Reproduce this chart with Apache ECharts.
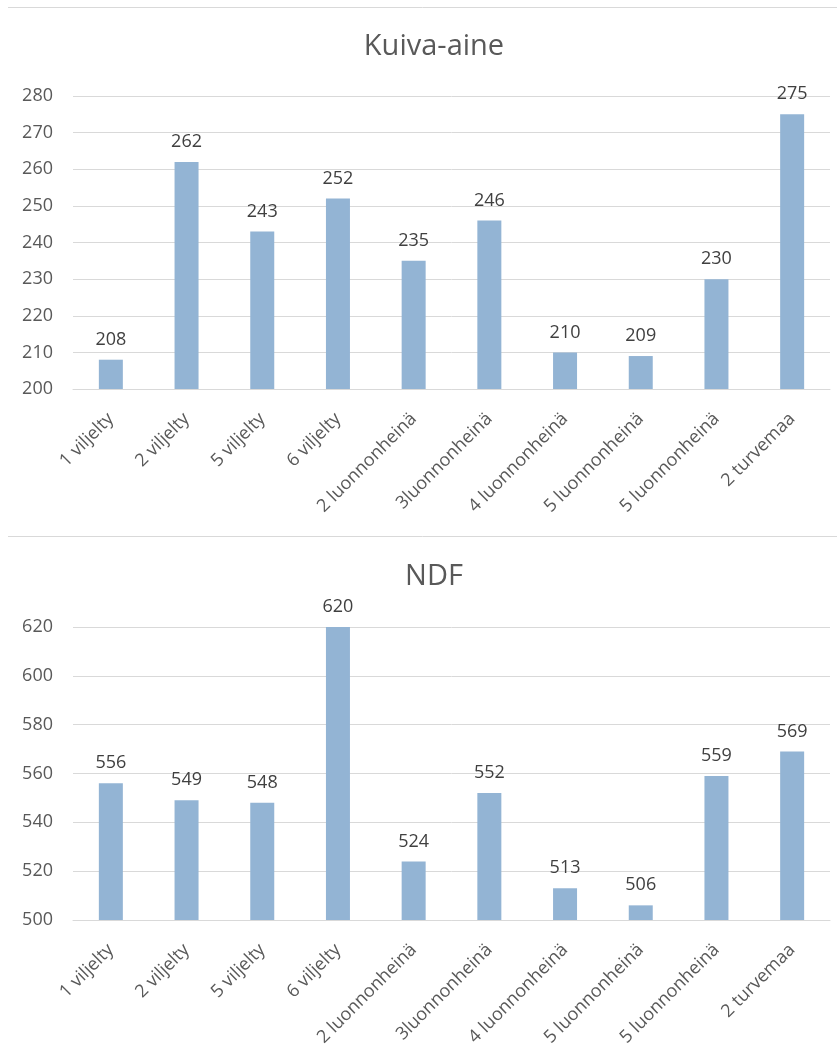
<!DOCTYPE html>
<html>
<head>
<meta charset="utf-8">
<script src="https://cdn.jsdelivr.net/npm/echarts@6/dist/echarts.min.js"></script>
<style>
  html, body { margin: 0; padding: 0; background: #fff; }
  #chart { width: 837px; height: 1051px; }
</style>
</head>
<body>
<div id="chart"></div>
<script>
// Sample categories (shared by both charts)
const categories = [
  '1 viljelty', '2 viljelty', '5 viljelty', '6 viljelty', '2 luonnonheinä',
  '3luonnonheinä', '4 luonnonheinä', '5 luonnonheinä', '5 luonnonheinä', '2 turvemaa'
];
// Dry matter values
const kuivaAine = [208, 262, 243, 252, 235, 246, 210, 209, 230, 275];
// NDF values
const ndf = [556, 549, 548, 620, 524, 552, 513, 506, 559, 569];

const titles = ['Kuiva-aine', 'NDF'];
const yRanges = [
  { min: 200, max: 280, interval: 10 },
  { min: 500, max: 620, interval: 20 }
];

const grey = '#595959';
const lineGrey = '#d9d9d9';
const barColor = '#93b4d4';
const font = '"Open Sans", "Liberation Sans", sans-serif';

const chart = echarts.init(document.getElementById('chart'), null, { renderer: 'canvas' });

const grids = [
  { left: 73, right: 7, top: 96, height: 293 },
  { left: 73, right: 7, top: 627, height: 293 }
];

function xAxis(i) {
  return {
    type: 'category', gridIndex: i, data: categories,
    axisLine: { lineStyle: { color: lineGrey, width: 1 } },
    axisTick: { show: false },
    axisLabel: { rotate: 45, color: grey, fontSize: 18, fontFamily: font, margin: 27, interval: 0 }
  };
}
function yAxis(i) {
  return {
    type: 'value', gridIndex: i,
    min: yRanges[i].min, max: yRanges[i].max, interval: yRanges[i].interval,
    axisLine: { show: false }, axisTick: { show: false },
    axisLabel: { color: grey, fontSize: 18, fontFamily: font, margin: 20 },
    splitLine: { lineStyle: { color: lineGrey, width: 1 } }
  };
}
function series(i, data) {
  return {
    type: 'bar', xAxisIndex: i, yAxisIndex: i, data: data,
    barWidth: 24,
    itemStyle: { color: barColor },
    label: { show: true, position: 'top', distance: 11, color: '#404040', fontSize: 18, fontFamily: font },
    silent: true
  };
}

function title(text, top) {
  return {
    text: text, left: 429, top: top, textAlign: 'center',
    textStyle: { color: grey, fontSize: 29, fontWeight: 'normal', fontFamily: font }
  };
}

chart.setOption({
  animation: false,
  title: [title(titles[0], 27), title(titles[1], 557)],
  grid: grids,
  xAxis: [xAxis(0), xAxis(1)],
  yAxis: [yAxis(0), yAxis(1)],
  series: [series(0, kuivaAine), series(1, ndf)],
  graphic: [
    { type: 'line', shape: { x1: 8, y1: 7.5, x2: 837, y2: 7.5 }, style: { stroke: lineGrey, lineWidth: 1 } },
    { type: 'line', shape: { x1: 8, y1: 536.5, x2: 837, y2: 536.5 }, style: { stroke: lineGrey, lineWidth: 1 } }
  ]
});
</script>
</body>
</html>
